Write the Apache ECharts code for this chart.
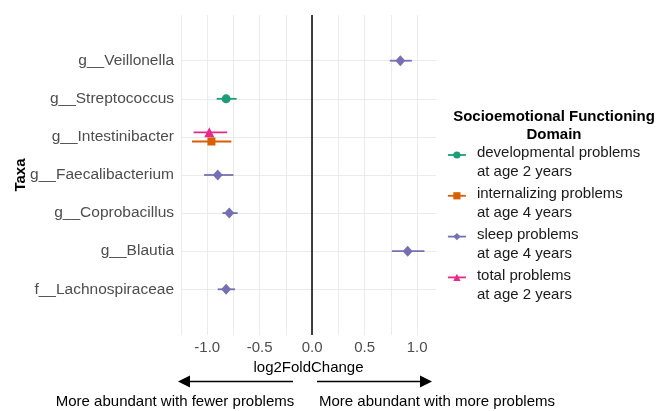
<!DOCTYPE html>
<html>
<head>
<meta charset="utf-8">
<script src="https://cdn.jsdelivr.net/npm/echarts@6/dist/echarts.min.js"></script>
<style>
  html, body { margin: 0; padding: 0; background: #fff; }
  #chart { width: 658px; height: 411px; }
</style>
</head>
<body>
<div id="chart"></div>
<script>
// taxa, bottom to top
var taxa = ['f__Lachnospiraceae', 'g__Blautia', 'g__Coprobacillus', 'g__Faecalibacterium',
  'g__Intestinibacter', 'g__Streptococcus', 'g__Veillonella'];

var groupNames = ['developmental problems\nat age 2 years', 'internalizing problems\nat age 4 years',
  'sleep problems\nat age 4 years', 'total problems\nat age 2 years'];

// developmental problems at age 2
var devTaxa = ['g__Streptococcus'];
var devEst = [-0.82];
var devLo = [-0.91];
var devHi = [-0.72];

// internalizing problems at age 4
var intTaxa = ['g__Intestinibacter'];
var intEst = [-0.96];
var intLo = [-1.145];
var intHi = [-0.77];

// sleep problems at age 4
var sleepTaxa = ['g__Veillonella', 'g__Faecalibacterium', 'g__Coprobacillus', 'g__Blautia', 'f__Lachnospiraceae'];
var sleepEst = [0.84, -0.90, -0.79, 0.91, -0.82];
var sleepLo = [0.74, -1.03, -0.855, 0.76, -0.90];
var sleepHi = [0.95, -0.75, -0.71, 1.07, -0.735];

// total problems at age 2
var totTaxa = ['g__Intestinibacter'];
var totEst = [-0.98];
var totLo = [-1.13];
var totHi = [-0.81];

var xLabelTicks = [-1.0, -0.5, 0.0, 0.5, 1.0];
var xGridTicks = [-1.25, -1.0, -0.75, -0.5, -0.25, 0, 0.25, 0.5, 0.75, 1.0];

var FONT = '"Liberation Sans", Arial, sans-serif';
var colors = ['#1B9E77', '#D95F02', '#7570B3', '#E7298A'];
var symbols = ['circle', 'rect', 'diamond', 'triangle'];
var symSizes = [9, 8, [10, 11], 10];

var groupData = [
  { taxa: devTaxa, est: devEst, lo: devLo, hi: devHi },
  { taxa: intTaxa, est: intEst, lo: intLo, hi: intHi },
  { taxa: sleepTaxa, est: sleepEst, lo: sleepLo, hi: sleepHi },
  { taxa: totTaxa, est: totEst, lo: totLo, hi: totHi }
];

// dodge: which groups appear at each taxon
var present = {};
groupData.forEach(function (g, gi) {
  g.taxa.forEach(function (t) {
    (present[t] = present[t] || []).push(gi);
  });
});
var dodgeStep = 0.24;
function yPos(t, gi) {
  var list = present[t];
  var k = list.indexOf(gi);
  return taxa.indexOf(t) + 1 + (k - (list.length - 1) / 2) * dodgeStep;
}

var pointSeries = [];
var barSeries = [];
groupData.forEach(function (g, gi) {
  var pts = [], bars = [];
  g.taxa.forEach(function (t, i) {
    var y = yPos(t, gi);
    pts.push([g.est[i], y]);
    bars.push([g.lo[i], g.hi[i], y]);
  });
  var s = {
    name: groupNames[gi],
    type: 'line',
    data: pts,
    symbol: symbols[gi],
    symbolSize: symSizes[gi],
    showSymbol: true,
    lineStyle: { opacity: 0 },
    itemStyle: { color: colors[gi] },
    z: 5
  };
  if (gi === 0) {
    s.markLine = {
      silent: true,
      symbol: 'none',
      label: { show: false },
      lineStyle: { color: '#000', width: 1.5, type: 'solid' },
      data: [{ xAxis: 0 }],
      z: 1
    };
  }
  pointSeries.push(s);
  barSeries.push({
    name: groupNames[gi],
    type: 'custom',
    data: bars,
    encode: { x: [0, 1], y: 2 },
    z: 4,
    renderItem: (function (c) {
      return function (params, api) {
        var a = api.coord([api.value(0), api.value(2)]);
        var b = api.coord([api.value(1), api.value(2)]);
        return {
          type: 'line',
          shape: { x1: a[0], y1: a[1], x2: b[0], y2: b[1] },
          style: { stroke: c, lineWidth: 1.8 }
        };
      };
    })(colors[gi])
  });
});

var chart = echarts.init(document.getElementById('chart'));
var option = {
  animation: false,
  textStyle: { fontFamily: FONT },
  grid: { left: 181, right: 222, top: 15, bottom: 76, containLabel: false },
  xAxis: {
    type: 'value',
    min: -1.25,
    max: 1.18,
    name: 'log2FoldChange',
    nameLocation: 'middle',
    nameGap: 21,
    nameTextStyle: { color: '#000', fontSize: 15, fontFamily: FONT },
    axisLine: { show: false },
    axisTick: { show: false, customValues: xGridTicks },
    axisLabel: {
      customValues: xLabelTicks,
      color: '#4D4D4D',
      fontSize: 15,
      margin: 5,
      fontFamily: FONT,
      formatter: function (v) { return v.toFixed(1); }
    },
    splitLine: { show: true, lineStyle: { color: '#EBEBEB', width: 1 } }
  },
  yAxis: {
    type: 'value',
    min: -0.2,
    max: 8.2,
    name: 'Taxa',
    nameLocation: 'middle',
    nameRotate: 90,
    nameGap: 153,
    nameMoveOverlap: false,
    nameTextStyle: { color: '#000', fontSize: 15, fontWeight: 'bold', fontFamily: FONT },
    axisLine: { show: false },
    axisTick: { show: false, customValues: [1, 2, 3, 4, 5, 6, 7] },
    axisLabel: {
      customValues: [1, 2, 3, 4, 5, 6, 7],
      color: '#4D4D4D',
      fontSize: 15.5,
      margin: 7,
      fontFamily: FONT,
      formatter: function (v) { return taxa[Math.round(v) - 1]; }
    },
    splitLine: { show: true, lineStyle: { color: '#EBEBEB', width: 1 } }
  },
  legend: {
    data: groupNames,
    orient: 'vertical',
    left: 447,
    top: 128.5,
    padding: 0,
    itemWidth: 18,
    itemHeight: 9,
    itemGap: -12.2,
    // empty first row keeps the key level with the first text line
    formatter: function (name) { return '{e| }\n' + name; },
    textStyle: {
      fontSize: 15, lineHeight: 19, color: '#1A1A1A', fontFamily: FONT, padding: [0, 0, 0, 6],
      rich: { e: { fontSize: 2, lineHeight: 15 } }
    },
    lineStyle: { opacity: 1, width: 1.8 }
  },
  graphic: [
    { type: 'text', x: 554, y: 117, style: { text: 'Socioemotional Functioning', font: 'bold 15px ' + FONT, fill: '#000', textAlign: 'center', textVerticalAlign: 'middle' } },
    { type: 'text', x: 554, y: 135, style: { text: 'Domain', font: 'bold 15px ' + FONT, fill: '#000', textAlign: 'center', textVerticalAlign: 'middle' } },
    // arrows below the axis
    { type: 'line', shape: { x1: 293, y1: 381.5, x2: 186, y2: 381.5 }, style: { stroke: '#000', lineWidth: 1.5 } },
    { type: 'polygon', shape: { points: [[178, 381.5], [190, 375.5], [190, 387.5]] }, style: { fill: '#000' } },
    { type: 'line', shape: { x1: 317, y1: 381.5, x2: 424, y2: 381.5 }, style: { stroke: '#000', lineWidth: 1.5 } },
    { type: 'polygon', shape: { points: [[432, 381.5], [420, 375.5], [420, 387.5]] }, style: { fill: '#000' } },
    { type: 'text', x: 175, y: 402, style: { text: 'More abundant with fewer problems', font: '15px ' + FONT, fill: '#000', textAlign: 'center', textVerticalAlign: 'middle' } },
    { type: 'text', x: 437, y: 402, style: { text: 'More abundant with more problems', font: '15px ' + FONT, fill: '#000', textAlign: 'center', textVerticalAlign: 'middle' } }
  ],
  series: pointSeries.concat(barSeries)
};
chart.setOption(option);
</script>
</body>
</html>
